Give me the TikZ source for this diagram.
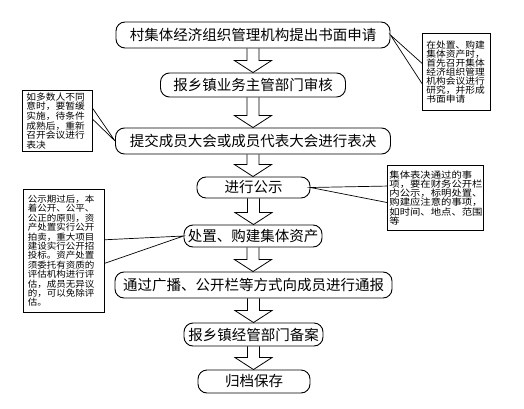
\documentclass[tikz,border=0pt]{standalone}
\usepackage{fontspec}
\newfontfamily\cjk{Noto Sans CJK SC}
\newfontfamily\cjksm[FakeStretch=1.08]{Noto Sans CJK SC}
\newfontfamily\cjkwide[FakeStretch=1.15]{Noto Sans CJK SC}
\usetikzlibrary{calc}
\tikzset{
  mainbox/.style={draw, line width=0.9pt, rounded corners=9pt, inner sep=0pt,
    font=\cjk\fontsize{14.5}{16}\selectfont},
  note/.style={draw, line width=0.8pt, anchor=north west, align=left,
    inner xsep=4pt, inner ysep=0pt},
  hollow/.style={draw, line width=0.8pt, line join=miter},
  ptr/.style={draw, line width=0.7pt},
}
\newcommand\hollowarr[2]{%
  \draw[hollow] let \p1=(#1.south), \p2=(#2.north) in
  (\x1-6pt,\y1) -- (\x1-6pt,\y2+12pt) -- (\x1-18.5pt,\y2+12pt) -- (\x1,\y2)
  -- (\x1+18.5pt,\y2+12pt) -- (\x1+6pt,\y2+12pt) -- (\x1+6pt,\y1);}
\begin{document}
\begin{tikzpicture}[x=1pt,y=-1pt]
\useasboundingbox (0,0) rectangle (524,409);
% main flow
\node[mainbox, minimum width=274pt, minimum height=26pt] (b1) at (253,35) {村集体经济组织管理机构提出书面申请};
\node[mainbox, minimum width=185pt, minimum height=24pt] (b2) at (253,85) {报乡镇业务主管部门审核};
\node[mainbox, minimum width=275pt, minimum height=26pt] (b3) at (253,141) {提交成员大会或成员代表大会进行表决};
\node[mainbox, minimum width=113pt, minimum height=21pt] (b4) at (253.5,187.5) {进行公示};
\node[mainbox, minimum width=138pt, minimum height=22pt] (b5) at (253,236) {处置、购建集体资产};
\node[mainbox, minimum width=277pt, minimum height=26pt] (b6) at (253.5,285) {通过广播、公开栏等方式向成员进行通报};
\node[mainbox, minimum width=139pt, minimum height=23pt] (b7) at (253.5,334.5) {报乡镇经管部门备案};
\node[mainbox, minimum width=112pt, minimum height=23pt] (b8) at (254,381.5) {归档保存};
% arrows
\hollowarr{b1}{b2}
\hollowarr{b2}{b3}
\hollowarr{b3}{b4}
\hollowarr{b4}{b5}
\hollowarr{b5}{b6}
\hollowarr{b6}{b7}
\hollowarr{b7}{b8}
% callouts
\node[note, text width=62pt, minimum height=61pt, font=\cjksm\fontsize{9}{8.3}\selectfont] (c1) at (22,90)
  {如多数人不同\\意时，要暂缓\\实施，待条件\\成熟后，重新\\召开会议进行\\表决};
\node[note, text width=60pt, minimum height=77pt, font=\cjksm\fontsize{9}{9}\selectfont] (c2) at (422,33)
  {在处置、购建\\集体资产时，\\首先召开集体\\经济组织管理\\机构会议进行\\研究，并形成\\书面申请};
\node[note, inner xsep=2pt, text width=92pt, minimum height=65pt, font=\cjkwide\fontsize{9}{9.3}\selectfont] (c3) at (387,165)
  {集体表决通过的事\\项，要在财务公开栏\\内公示，标明处置、\\购建应注意的事项，\\如时间、地点、范围\\等};
\node[note, inner xsep=4.5pt, text width=72pt, minimum height=123pt, font=\cjksm\fontsize{8.8}{9.4}\selectfont] (c4) at (23,189)
  {公示期过后，本\\着公开、公平、\\公正的原则，资\\产处置实行公开\\拍卖，重大项目\\建设实行公开招\\投标。资产处置\\须委托有资质的\\评估机构进行评\\估，成员无异议\\的，可以免除评\\估。};
% pointers
\draw[ptr] ($(c1.north east)!0.30!(c1.south east)$) -- (b3.west) -- ($(c1.north east)!0.475!(c1.south east)$);
\draw[ptr] ($(c2.north west)!0.39!(c2.south west)$) -- (b1.east) -- ($(c2.north west)!0.65!(c2.south west)$);
\draw[ptr] ($(c3.north west)!0.32!(c3.south west)$) -- (b4.east) -- ($(c3.north west)!0.57!(c3.south west)$);
\draw[ptr] ($(c4.north east)!0.41!(c4.south east)$) -- (b5.west) -- ($(c4.north east)!0.60!(c4.south east)$);
\end{tikzpicture}
\end{document}
